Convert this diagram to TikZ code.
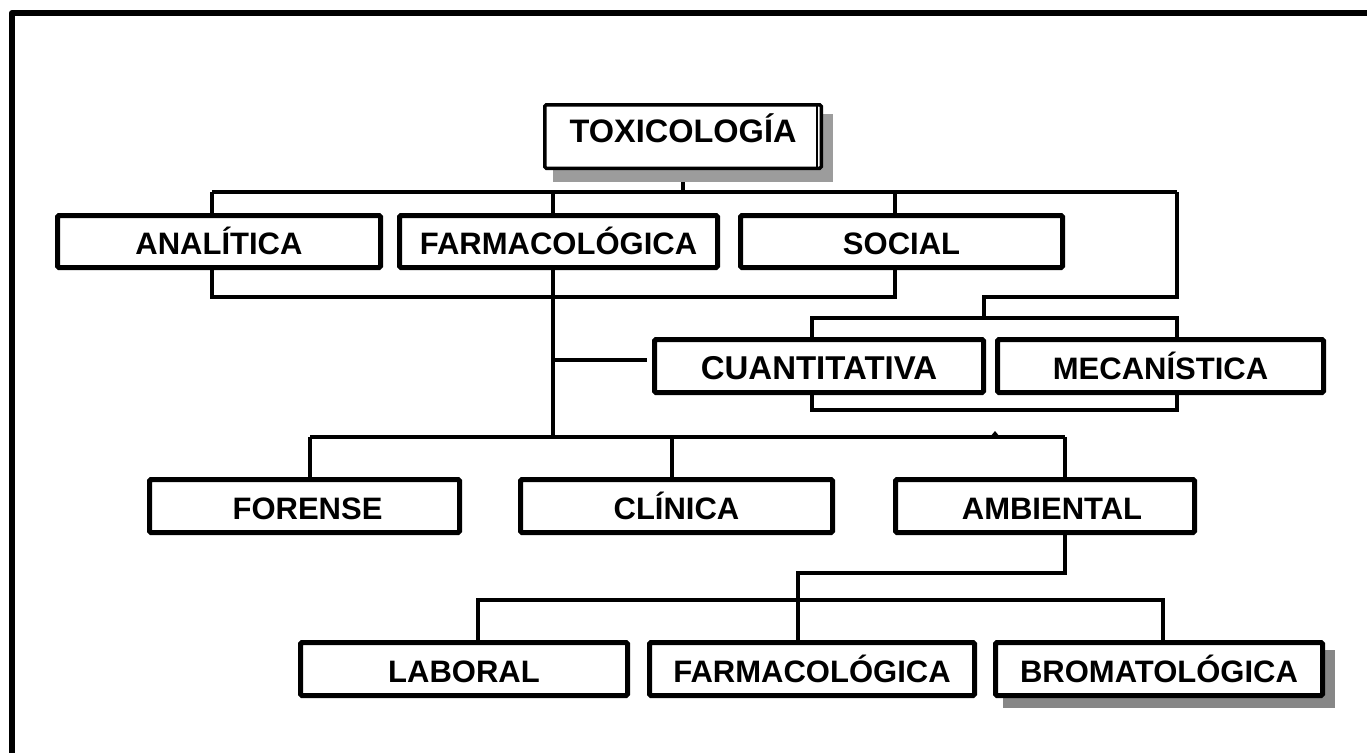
\documentclass[tikz,border=0pt]{standalone}
\usepackage{fontspec}
\setmainfont{Liberation Sans}
\usetikzlibrary{backgrounds}
\definecolor{shadelight}{HTML}{9C9C9C}
\definecolor{shadedark}{HTML}{878787}
\tikzset{
  branch/.style={draw, line width=5pt, fill=white, rounded corners=1.5pt,
    inner sep=0pt, anchor=center, text height=26.5pt, text depth=0pt,
    font=\fontsize{31}{36}\selectfont\bfseries},
  row2/.style={branch, minimum height=52pt},
  row3/.style={branch, minimum height=53pt},
  link/.style={line width=4pt, line join=miter},
  frame/.style={line width=6pt, line join=round},
}
\begin{document}
\begin{tikzpicture}[x=1pt, y=-1pt]
\useasboundingbox (0,0) rectangle (1367,752);

% outer frame (open on the right and at the bottom)
\draw[frame] (12,760) -- (12,13) -- (1375,13);

% drop shadows
\fill[shadelight] (553,114) rectangle (833,182);
\fill[shadedark] (1003,650) rectangle (1335,708);

% root
\node[branch, line width=3.5pt, minimum width=276.5pt, minimum height=63.5pt,
      text height=23.6pt, text depth=12pt,
      font=\fontsize{32.5}{38}\selectfont\bfseries] (tox) at (683,136.5) {TOXICOLOGÍA};
\draw[line width=1.8pt] ([xshift=-6pt,yshift=-1pt]tox.north east) -- ([xshift=-6pt,yshift=1pt]tox.south east);

% first level
\node[row2, minimum width=323pt] (ana)   at (219,241.5)   {ANALÍTICA};
\node[row2, minimum width=318pt] (farmA) at (558.5,241.5) {FARMACOLÓGICA};
\node[row2, minimum width=322pt] (soc)   at (901.5,241.5) {SOCIAL};

% second level
\node[row3, minimum width=329pt, text height=27.5pt,
      font=\fontsize{33}{38}\selectfont\bfseries] (cuan) at (819,366) {CUANTITATIVA};
\node[row3, minimum width=326pt] (mec)  at (1160.5,366) {MECANÍSTICA};

% third level
\node[row3, minimum width=310pt] (for) at (304.5,506) {\hspace*{6pt}FORENSE};
\node[row3, minimum width=312pt] (cli) at (676.5,506) {CLÍNICA};
\node[row3, minimum width=299pt] (amb) at (1045,506)  {\hspace*{14pt}AMBIENTAL};

% fourth level
\node[row3, minimum width=327pt] (lab)   at (464,669)  {LABORAL};
\node[row3, minimum width=325pt] (farmB) at (812,669)  {FARMACOLÓGICA};
\node[row3, minimum width=327pt] (brom)  at (1159,669) {BROMATOLÓGICA};

% junction points
\coordinate (rootbus) at (683,192);
\coordinate (busL) at (212,192);
\coordinate (busR) at (1177,192);
\coordinate (anaX) at (212,0);
\coordinate (farmX) at (553,0);
\coordinate (socX) at (895,0);
\coordinate (loopLow) at (1177,297);
\coordinate (loopIn) at (984,297);
\coordinate (qmTop) at (984,318);
\coordinate (qmL) at (812,318);
\coordinate (qmR) at (1177,318);
\coordinate (qmLb) at (812,410);
\coordinate (qmRb) at (1177,410);
\coordinate (side) at (553,360);
\coordinate (midL) at (310,437);
\coordinate (midR) at (1065,437);
\coordinate (midC) at (672,437);
\coordinate (ambLow) at (1065,573);
\coordinate (ambTurn) at (798,573);
\coordinate (lowL) at (478,600);
\coordinate (lowR) at (1163,600);

\begin{scope}[on background layer]
  % root to first level
  \draw[link] (tox.south) -- (rootbus);
  \draw[link] (busL) -- (busR);
  \draw[link] (busL) -- (busL |- ana.north);
  \draw[link] (socX |- busL) -- (socX |- soc.north);
  \draw[link] (ana.south -| anaX) -- (anaX |- loopIn) -- (socX |- loopIn) -- (soc.south -| socX);
  % loop round to the second level
  \draw[link] (busR) -- (loopLow) -- (loopIn) -- (qmTop);
  \draw[link] (qmL |- cuan.north) -- (qmL) -- (qmR) -- (qmR |- mec.north);
  \draw[link] (qmLb |- cuan.south) -- (qmLb) -- (qmRb) -- (qmRb |- mec.south);
  % trunk below FARMACOLÓGICA
  \draw[link] (farmX |- busL) -- (farmX |- midL);
  \draw[link] (side) -- ([xshift=-5pt]cuan.west |- side);
  % third level bus
  \draw[link] (midL) -- (midR);
  \draw[link] (midL) -- (midL |- for.north);
  \draw[link] (midC) -- (midC |- cli.north);
  \draw[link] (midR) -- (midR |- amb.north);
  % AMBIENTAL to the fourth level
  \draw[link] (amb.south -| ambLow) -- (ambLow) -- (ambTurn) -- (ambTurn |- farmB.north);
  \draw[link] (lowL |- lab.north) -- (lowL) -- (lowR) -- (lowR |- brom.north);
\end{scope}

% small tick on the third-level bus
\fill (990,437) -- (995,431) -- (1000,437) -- cycle;
\end{tikzpicture}
\end{document}
